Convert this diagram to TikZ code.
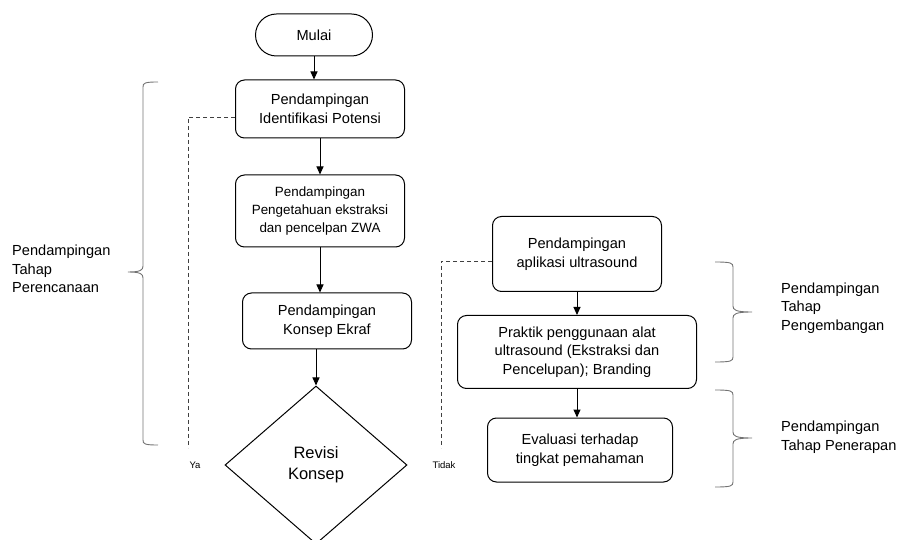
\documentclass[tikz,border=0pt]{standalone}
\usepackage{fontspec}
\setmainfont{Liberation Sans}
\usetikzlibrary{arrows.meta,shapes.geometric}

\tikzset{
	box/.style={draw=black, line width=1pt, rounded corners=9pt, align=center, inner sep=2pt, font=\fontsize{14.6}{18.5}\selectfont},
	flow/.style={-{Triangle[length=8pt,width=7pt]}, line width=1pt},
	back/.style={draw=black!75, line width=0.7pt, dash pattern=on 4pt off 3pt},
	phase/.style={draw=black!55, line width=0.9pt},
	lbl/.style={align=left, anchor=west, inner sep=0pt, font=\fontsize{14.6}{18.5}\selectfont},
	small/.style={inner sep=1pt, font=\fontsize{9.5}{11}\selectfont}
}

\begin{document}
\begin{tikzpicture}[x=1pt, y=-1pt]
	
	\useasboundingbox (0,0) rectangle (898,540);
	
	\node[box, rounded corners=21pt, minimum width=117pt, minimum height=42pt] (mulai) at (314,35) {Mulai};
	\node[box, minimum width=169pt, minimum height=58pt] (identifikasi) at (320,109) {Pendampingan\\Identifikasi Potensi};
	\node[box, font=\fontsize{13.4}{18}\selectfont, minimum width=169pt, minimum height=72pt] (pengetahuan) at (320,211) {Pendampingan\\Pengetahuan ekstraksi\\dan pencelpan ZWA};
	\node[box, minimum width=169pt, minimum height=56pt] (ekraf) at (327,321) {Pendampingan\\Konsep Ekraf};
	\node[shape=diamond, draw=black, line width=1pt, minimum width=182pt, minimum height=158pt, inner sep=0pt, align=center, font=\fontsize{16.5}{21}\selectfont] (revisi) at (316,465) {Revisi\\Konsep};
	
	\node[box, minimum width=169pt, minimum height=75pt] (aplikasi) at (577,254) {Pendampingan\\aplikasi ultrasound};
	\node[box, minimum width=239pt, minimum height=73pt] (praktik) at (577,352) {Praktik penggunaan alat\\ultrasound (Ekstraksi dan\\Pencelupan); Branding};
	\node[box, minimum width=185pt, minimum height=64pt] (evaluasi) at (580,450) {Evaluasi terhadap\\tingkat pemahaman};
	
	\draw[flow] (mulai.south) -- (mulai.south |- identifikasi.north);
	\draw[flow] (identifikasi.south) -- (identifikasi.south |- pengetahuan.north);
	\draw[flow] (pengetahuan.south) -- (pengetahuan.south |- ekraf.north);
	\draw[flow] (revisi.north |- ekraf.south) -- (revisi.north);
	\draw[flow] (aplikasi.south) -- (aplikasi.south |- praktik.north);
	\draw[flow] (praktik.south) -- (praktik.south |- evaluasi.north);
	
	\coordinate (ya) at (188,448);
	\coordinate (tidak) at (441,448);
	\draw[back] ([yshift=-8pt]identifikasi.west) -| (ya);
	\draw[back] ([yshift=-7pt]aplikasi.west) -| (tidak);
	\node[small] (yalabel) at (195,465) {Ya};
	\node[small] (tidaklabel) at (444,465) {Tidak};
	
	\foreach \x/\v/\a/\t/\m/\b in {158/-15/-30/82/272/445, 715/18/37/262/312/362, 715/18/37/390/438/487}
		\draw[phase] (\x,\t) .. controls ({\x+0.9*\v},\t) and ({\x+\v},{\t+1}) .. ({\x+\v},{\t+5})
			-- ({\x+\v},{\m-6}) .. controls ({\x+\v},{\m-2}) and ({\x+1.15*\v},\m) .. ({\x+\a},\m)
			.. controls ({\x+1.15*\v},\m) and ({\x+\v},{\m+2}) .. ({\x+\v},{\m+6})
			-- ({\x+\v},{\b-5}) .. controls ({\x+\v},{\b-1}) and ({\x+0.9*\v},\b) .. (\x,\b);
	
	\node[lbl] (perencanaan) at (12,269) {Pendampingan\\Tahap\\Perencanaan};
	\node[lbl] (pengembangan) at (781,308) {Pendampingan\\Tahap\\Pengembangan};
	\node[lbl] (penerapan) at (781,437) {Pendampingan\\Tahap Penerapan};
	
\end{tikzpicture}
\end{document}
